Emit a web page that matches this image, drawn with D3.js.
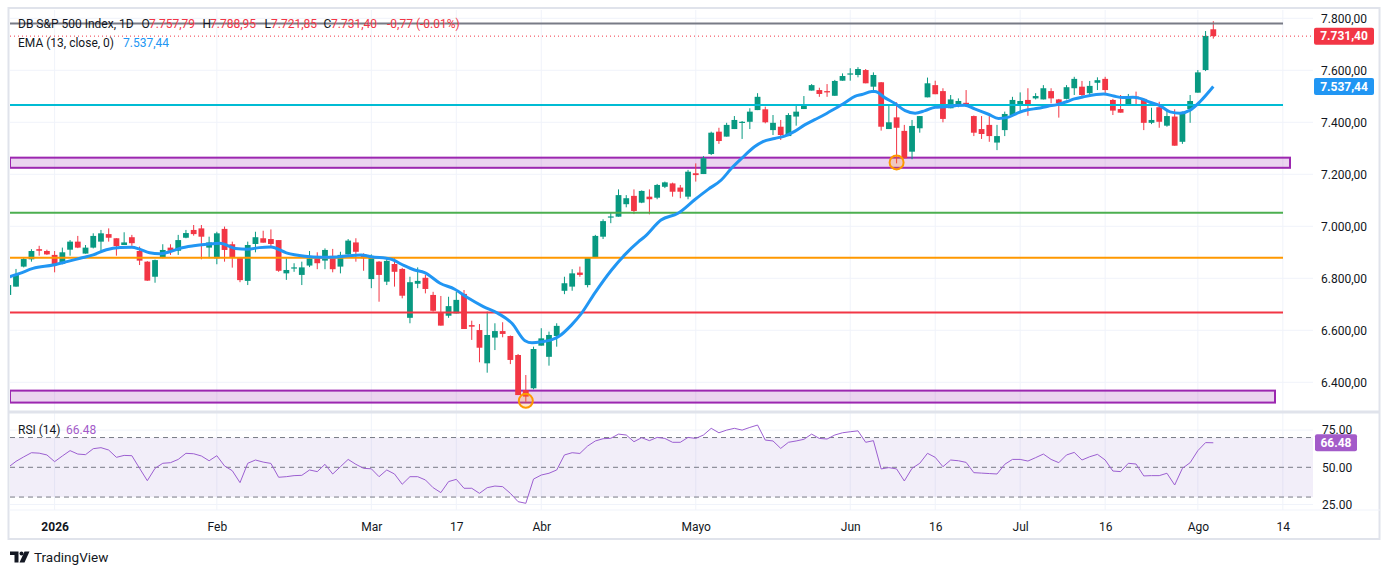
<!DOCTYPE html>
<html lang="es">
  <head>
    <meta charset="UTF-8" />
    <title>DB S&amp;P 500 Index, 1D</title>
    <style>
      body {
        margin: 0;
        background: #fff;
      }

      text {
        font-family: Roboto, "Liberation Sans", sans-serif;
        fill: #131722;
      }

      .grid {
        stroke: #f0f3fa;
        stroke-width: 1px;
      }

      .ema-line {
        fill: none;
        stroke: #2196f3;
        stroke-width: 3px;
        stroke-linejoin: round;
      }

      .rsi-line {
        fill: none;
        stroke: #9c5fd1;
        stroke-width: 1px;
      }

      .rsi-band {
        stroke: #787b86;
        stroke-dasharray: 5,4;
        stroke-width: 1px;
      }
    </style>
  </head>

  <body>

    <script src="https://d3js.org/d3.v7.min.js"></script>
    <script>

      // daily candles, one entry per bar (bar 0 is cut by the left edge)
      var opens = [6736,6768,6845,6873,6912,6905,6890,6856,6910,6941, 6895,6918,6941,6970,6954,6928,6958,6905,6864,6806,
                   6881,6918,6906,6956,6986,6992,6918,6877,6990,6931, 6881,6790,6932,6954,6951,6947,6819,6840,6813,6849,
                   6883,6868,6886,6845,6892,6938,6892,6797,6864,6787, 6855,6836,6648,6779,6802,6736,6668,6656,6665,6740,
                   6620,6601,6473,6572,6597,6578,6505,6370,6377,6541, 6498,6578,6752,6768,6822,6774,6881,6960,7035,7037,
                   7085,7117,7091,7114,7110,7152,7165,7149,7114,7204, 7201,7278,7364,7345,7374,7398,7402,7447,7450,7370,
                   7383,7347,7422,7451,7522,7524,7520,7502,7560,7584, 7582,7601,7537,7554,7374,7419,7367,7287,7377,7496,
                   7543,7520,7454,7467,7475,7424,7374,7390,7322,7370, 7428,7464,7486,7492,7488,7520,7488,7490,7531,7537,
                   7512,7552,7567,7486,7451,7464,7499,7490,7398,7458, 7387,7422,7325,7451,7514,7601,7757.79];

      var highs = [6790,6836,6879,6912,6925,6910,6905,6918,6947,6963, 6928,6973,6986,6992,6954,6977,6967,6922,6866,6872,
                   6931,6931,6967,6986,7005,7005,6960,6979,6999,6941, 6882,6941,6979,6983,6988,6947,6877,6858,6864,6905,
                   6900,6915,6913,6902,6951,6954,6896,6892,6866,6881, 6881,6840,6806,6842,6813,6748,6732,6729,6748,6755,
                   6637,6624,6672,6627,6631,6580,6509,6428,6537,6608, 6595,6627,6806,6835,6845,6881,6967,7027,7054,7142,
                   7120,7142,7138,7142,7163,7172,7168,7159,7217,7242, 7270,7364,7379,7398,7424,7405,7454,7512,7460,7428,
                   7409,7435,7463,7501,7547,7533,7547,7563,7588,7608, 7612,7605,7592,7555,7464,7477,7390,7409,7424,7572,
                   7560,7531,7505,7492,7524,7426,7424,7424,7390,7441, 7498,7515,7531,7512,7543,7531,7490,7543,7575,7559,
                   7559,7573,7575,7490,7505,7509,7518,7492,7456,7479, 7447,7450,7441,7505,7601,7751,7788.95];

      var lows = [6730,6768,6842,6864,6887,6890,6823,6854,6887,6916, 6895,6915,6906,6941,6887,6928,6925,6851,6790,6783,
                  6877,6890,6890,6954,6964,6873,6877,6854,6864,6841, 6785,6774,6900,6937,6918,6825,6794,6825,6774,6843,
                  6835,6835,6823,6819,6886,6864,6829,6762,6710,6774, 6768,6723,6627,6762,6742,6672,6618,6648,6665,6605,
                  6563,6477,6437,6524,6573,6470,6351,6325,6373,6541, 6464,6537,6739,6752,6806,6765,6881,6951,7012,7037,
                  7073,7047,7089,7046,7104,7147,7114,7108,7104,7172, 7201,7274,7317,7345,7374,7336,7374,7447,7396,7351,
                  7332,7347,7387,7451,7522,7498,7498,7502,7560,7560, 7573,7550,7524,7368,7374,7242,7262,7258,7360,7496,
                  7508,7400,7454,7458,7465,7347,7336,7325,7293,7347, 7428,7441,7425,7488,7488,7473,7418,7488,7505,7498,
                  7498,7524,7505,7428,7437,7464,7464,7370,7393,7379, 7383,7310,7317,7398,7514,7597,7721.85];

      var closes = [6774,6813,6874,6905,6906,6892,6851,6900,6941,6918, 6918,6963,6973,6956,6924,6938,6935,6868,6791,6870,
                    6909,6906,6947,6974,6970,6960,6938,6973,6909,6879, 6793,6928,6958,6937,6932,6829,6832,6842,6842,6877,
                    6858,6909,6835,6890,6945,6902,6877,6881,6813,6867, 6825,6733,6785,6790,6759,6675,6618,6693,6717,6605,
                    6614,6533,6582,6597,6586,6486,6351,6345,6528,6569, 6582,6617,6781,6819,6813,6881,6963,7020,7038,7120,
                    7108,7059,7136,7104,7159,7169,7133,7133,7210,7197, 7262,7360,7328,7390,7409,7402,7441,7498,7400,7398,
                    7351,7428,7441,7467,7543,7509,7515,7559,7578,7588, 7605,7550,7582,7383,7400,7379,7262,7386,7424,7550,
                    7508,7413,7488,7482,7467,7360,7355,7347,7347,7432, 7486,7482,7464,7501,7531,7492,7473,7535,7567,7505,
                    7540,7562,7524,7445,7437,7501,7495,7398,7409,7402, 7424,7310,7438,7482,7592,7732.17,7731.40];

      // RSI (14), one value per bar
      var rsiValues = [50.0,54.0,57.0,59.8,59.5,58.3,53.8,57.6,61.2,58.9, 58.5,62.5,63.2,61.6,56.7,58.0,57.8,49.3,41.0,49.3,
                       52.7,53.1,55.3,59.4,59.1,57.6,54.4,57.8,50.9,47.7, 39.7,52.7,54.9,53.5,52.6,43.3,43.7,44.4,44.6,48.2,
                       47.1,52.0,45.5,50.4,55.3,52.0,49.3,49.0,43.7,48.2, 45.5,38.6,43.7,43.7,41.5,36.3,33.0,40.4,41.9,35.9,
                       35.9,32.5,36.3,37.4,37.0,32.5,26.9,25.8,42.1,44.8, 46.0,48.2,58.3,59.8,59.3,64.3,67.7,69.2,69.5,72.3,
                       71.7,67.2,69.9,67.9,70.1,69.4,66.8,66.8,70.1,69.4, 71.7,76.2,73.2,75.0,76.2,75.0,76.8,78.4,68.3,67.7,
                       62.7,66.8,67.7,68.8,72.3,69.4,69.0,71.7,73.2,73.9, 74.5,66.8,67.9,48.9,49.8,48.9,40.8,49.3,52.7,59.4,
                       56.7,50.4,54.9,54.4,53.3,46.4,46.1,45.8,45.5,52.0, 55.3,55.3,54.2,56.5,58.9,55.3,53.1,58.3,60.0,54.9,
                       57.1,58.7,54.9,47.5,47.1,52.7,52.2,44.2,44.4,44.4, 46.0,38.1,49.3,53.1,61.2,66.6,66.48];

      // EMA (13, close) read at these bar positions
      var emaBars = [0.2,1.5,3.2,5.8,7.6,9.3,11,12.7,14.5,16, 17,18.3,19.6,20.9,22.2,24,25.7,27.4,29.4,31,
                     32.5,34,36,38.4,40.5,42.5,44,45.7,47,49.6, 50.9,52.6,53.9,55.9,57.8,59.6,61.5,63.4,65.2,66.9,
                     67.8,69.1,70.3,71.2,72.9,74.2,75.9,78.1,79.8,81.6, 82.4,84.5,86.7,88.9,90.6,92.3,93.6,94.9,96.6,97.7,
                     99.2,100.5,101.8,103.1,104.4,105.7,107,108.3,109.6,110.5, 111.8,112.2,113.5,114.8,116.1,117.4,118.7,120,121.3,122.6,
                     123.8,125.1,126.9,128.2,129.5,130.7,132,133.3,134.6,135.8, 137.1,138,139.2,141.8,143.1,144.3,145.6,146.5,147.8,149.1,
                     150.4,151.7,153,154.3,156];
      var emaValues = [6806,6819,6838,6851,6864,6877,6890,6910,6918,6919, 6912,6898,6894,6902,6915,6925,6931,6935,6915,6912,
                       6918,6920,6898,6885,6881,6882,6887,6890,6883,6873, 6854,6832,6822,6781,6758,6723,6691,6665,6627,6560,
                       6552,6556,6563,6575,6620,6665,6742,6832,6890,6941, 6960,7024,7050,7103,7142,7178,7222,7260,7306,7326,
                       7338,7347,7365,7390,7410,7430,7452,7475,7500,7507, 7518,7518,7494,7472,7445,7435,7445,7458,7460,7464,
                       7466,7452,7431,7415,7420,7436,7448,7454,7462,7468, 7480,7490,7498,7509,7501,7495,7496,7492,7477,7464,
                       7440,7435,7447,7480,7537.44];

      var tickBars = [6, 27, 47, 58, 69, 89, 109, 120, 131, 142, 154, 165];
      var tickLabels = ["2026", "Feb", "Mar", "17", "Abr", "Mayo", "Jun", "16", "Jul", "16", "Ago", "14"];
      var priceTicks = [7800, 7600, 7400, 7200, 7000, 6800, 6600, 6400];
      var rsiTicks = [75, 50, 25];

      // drawn levels and zones
      var levelPrices = [7780, 7467, 7052, 6879, 6668];
      var zoneTops = [7264, 6368];
      var zoneBottoms = [7225, 6322];
      var markedBars = [67, 115];

      var levelColors = ["#787b86", "#00bcd4", "#4caf50", "#ff9800", "#f23645"];
      var zoneEnds = [1290, 1275];

      var w = 1388, h = 575;
      var paneL = 10, paneR = 1313;
      var priceTop = 10, priceBot = 410, rsiTop = 414, rsiBot = 510;
      var lineEnd = 1283;
      var up = "#089981", down = "#f23645";

      var es = d3.formatLocale({ decimal: ",", thousands: ".", grouping: [3], currency: ["", ""], minus: "-" });
      var fmtPrice = es.format(",.2f");
      var fmtRsi = d3.format(".2f");

      var bars = closes.map(function(c, i) {
        return { i: i, o: opens[i], h: highs[i], l: lows[i], c: c };
      });
      var last = bars[bars.length - 1];
      var prev = bars[bars.length - 2];

      var xScale = d3.scaleLinear().domain([1, 156]).range([16, 1213.3]);
      var yScale = d3.scaleLinear().domain([6400, 7800]).range([382.3, 18.3]);
      var rScale = d3.scaleLinear().domain([25, 75]).range([504.5, 430.1]);

      var svg = d3.select("body").append("svg")
        .attr("width", w)
        .attr("height", h);

      svg.append("rect")
        .attr("x", 8.5).attr("y", 8)
        .attr("width", 1371).attr("height", 531)
        .attr("fill", "#fff")
        .attr("stroke", "#e0e3eb")
        .attr("stroke-width", 2);

      var defs = svg.append("defs");
      defs.append("clipPath").attr("id", "clip-price")
        .append("rect").attr("x", paneL).attr("y", priceTop)
        .attr("width", paneR - paneL).attr("height", priceBot - priceTop);
      defs.append("clipPath").attr("id", "clip-rsi")
        .append("rect").attr("x", paneL).attr("y", rsiTop)
        .attr("width", paneR - paneL).attr("height", rsiBot - rsiTop);

      // grid
      svg.append("g").selectAll("line")
        .data(tickBars)
        .join("line")
        .attr("class", "grid")
        .attr("x1", function(d) { return xScale(d); })
        .attr("x2", function(d) { return xScale(d); })
        .attr("y1", priceTop)
        .attr("y2", rsiBot);

      svg.append("g").selectAll("line")
        .data(priceTicks)
        .join("line")
        .attr("class", "grid")
        .attr("x1", paneL).attr("x2", paneR)
        .attr("y1", function(d) { return yScale(d); })
        .attr("y2", function(d) { return yScale(d); });

      svg.append("g").selectAll("line")
        .data([75, 25])
        .join("line")
        .attr("class", "grid")
        .attr("x1", paneL).attr("x2", paneR)
        .attr("y1", function(d) { return rScale(d); })
        .attr("y2", function(d) { return rScale(d); });

      svg.append("line")
        .attr("x1", 9).attr("x2", 1380)
        .attr("y1", 412).attr("y2", 412)
        .attr("stroke", "#e0e3eb")
        .attr("stroke-width", 3);

      svg.append("line")
        .attr("x1", 9).attr("x2", 1380)
        .attr("y1", rsiBot).attr("y2", rsiBot)
        .attr("stroke", "#f0f3fa")
        .attr("stroke-width", 1);

      var price = svg.append("g").attr("clip-path", "url(#clip-price)");

      // zones
      price.append("g").selectAll("rect")
        .data(zoneTops)
        .join("rect")
        .attr("x", paneL)
        .attr("y", function(d) { return yScale(d); })
        .attr("width", function(d, i) { return zoneEnds[i] - paneL; })
        .attr("height", function(d, i) { return yScale(zoneBottoms[i]) - yScale(d); })
        .attr("fill", "rgba(156,39,176,0.2)")
        .attr("stroke", "#9c27b0")
        .attr("stroke-width", 2);

      // candles
      var candle = price.append("g").selectAll("g")
        .data(bars)
        .join("g");

      candle.append("line")
        .attr("x1", function(d) { return xScale(d.i); })
        .attr("x2", function(d) { return xScale(d.i); })
        .attr("y1", function(d) { return yScale(d.h); })
        .attr("y2", function(d) { return yScale(d.l); })
        .attr("stroke", function(d) { return d.c >= d.o ? up : down; })
        .attr("stroke-width", 1);

      candle.append("rect")
        .attr("x", function(d) { return xScale(d.i) - 2.9; })
        .attr("width", 5.8)
        .attr("y", function(d) { return yScale(Math.max(d.o, d.c)); })
        .attr("height", function(d) { return Math.max(1.2, Math.abs(yScale(d.o) - yScale(d.c))); })
        .attr("fill", function(d) { return d.c >= d.o ? up : down; });

      // horizontal levels
      price.append("g").selectAll("line")
        .data(levelPrices)
        .join("line")
        .attr("x1", paneL).attr("x2", lineEnd)
        .attr("y1", function(d) { return yScale(d); })
        .attr("y2", function(d) { return yScale(d); })
        .attr("stroke", function(d, i) { return levelColors[i]; })
        .attr("stroke-width", 2);

      price.append("line")
        .attr("x1", paneL).attr("x2", paneR)
        .attr("y1", yScale(last.c)).attr("y2", yScale(last.c))
        .attr("stroke", down)
        .attr("stroke-width", 1)
        .attr("stroke-dasharray", "1,3");

      var emaPts = emaBars.map(function(b, i) { return { b: b, v: emaValues[i] }; });
      var emaLine = d3.line()
        .x(function(d) { return xScale(d.b); })
        .y(function(d) { return yScale(d.v); })
        .curve(d3.curveMonotoneX);

      price.append("path")
        .datum(emaPts)
        .attr("class", "ema-line")
        .attr("d", emaLine);

      price.append("g").selectAll("circle")
        .data(markedBars)
        .join("circle")
        .attr("cx", function(d) { return xScale(d); })
        .attr("cy", function(d) { return yScale(lows[d]) - 1; })
        .attr("r", 7)
        .attr("fill", "rgba(255,152,0,0.2)")
        .attr("stroke", "#ff9800")
        .attr("stroke-width", 2);

      // RSI pane
      var rsi = svg.append("g").attr("clip-path", "url(#clip-rsi)");

      rsi.append("rect")
        .attr("x", paneL).attr("width", paneR - paneL)
        .attr("y", rScale(70))
        .attr("height", rScale(30) - rScale(70))
        .attr("fill", "rgba(126,87,194,0.1)");

      rsi.append("g").selectAll("line")
        .data([70, 50, 30])
        .join("line")
        .attr("class", "rsi-band")
        .attr("x1", paneL).attr("x2", paneR)
        .attr("y1", function(d) { return rScale(d); })
        .attr("y2", function(d) { return rScale(d); });

      var rsiLine = d3.line()
        .x(function(d, i) { return xScale(i); })
        .y(function(d) { return rScale(d); });

      rsi.append("path")
        .datum(rsiValues)
        .attr("class", "rsi-line")
        .attr("d", rsiLine);

      // axes
      var yAxis = d3.axisRight(yScale)
        .tickValues(priceTicks)
        .tickFormat(fmtPrice)
        .tickSize(0)
        .tickPadding(0);

      var yAxisG = svg.append("g")
        .attr("transform", "translate(1321,0)")
        .call(yAxis);

      var rAxis = d3.axisRight(rScale)
        .tickValues(rsiTicks)
        .tickFormat(fmtRsi)
        .tickSize(0)
        .tickPadding(0);

      var rAxisG = svg.append("g")
        .attr("transform", "translate(1322,0)")
        .call(rAxis);

      var xAxis = d3.axisBottom(xScale)
        .tickValues(tickBars)
        .tickFormat(function(d, i) { return tickLabels[i]; })
        .tickSize(0)
        .tickPadding(12);

      var xAxisG = svg.append("g")
        .attr("transform", "translate(0," + rsiBot + ")")
        .call(xAxis);

      [yAxisG, rAxisG, xAxisG].forEach(function(g) {
        g.select(".domain").remove();
        g.attr("font-family", null).attr("font-size", null);
        g.selectAll("text").style("font-size", "12px").attr("fill", "#131722");
      });
      xAxisG.selectAll("text")
        .attr("dy", "0.71em")
        .style("font-weight", function(d, i) { return i === 0 ? "bold" : null; });

      // last value labels
      function valueTag(yPos, label, color, x0, width) {
        svg.append("rect")
          .attr("x", x0).attr("y", yPos - 8.5)
          .attr("width", width).attr("height", 17)
          .attr("rx", 2)
          .attr("fill", color);
        svg.append("text")
          .attr("x", x0 + width / 2).attr("y", yPos + 4.3)
          .attr("text-anchor", "middle")
          .style("font-size", "12px")
          .style("font-weight", "bold")
          .style("fill", "#fff")
          .text(label);
      }

      valueTag(yScale(last.c), fmtPrice(last.c), down, 1314, 60);
      valueTag(yScale(emaValues[emaValues.length - 1]), fmtPrice(emaValues[emaValues.length - 1]), "#2196f3", 1314, 60);
      valueTag(rScale(rsiValues[rsiValues.length - 1]), fmtRsi(rsiValues[rsiValues.length - 1]), "#a35bc9", 1315, 42);

      // legends
      var change = last.c - prev.c;
      var pct = change / prev.c * 100;

      var legend = svg.append("text")
        .attr("y", 28)
        .style("font-size", "12px");

      legend.append("tspan").attr("x", 18).text("DB S&P 500 Index, 1D");
      legend.append("tspan").attr("x", 141.5).text("O");
      legend.append("tspan").attr("x", 149).style("fill", down).text(fmtPrice(last.o));
      legend.append("tspan").attr("x", 202.5).text("H");
      legend.append("tspan").attr("x", 210).style("fill", down).text(fmtPrice(last.h));
      legend.append("tspan").attr("x", 264.5).text("L");
      legend.append("tspan").attr("x", 271).style("fill", down).text(fmtPrice(last.l));
      legend.append("tspan").attr("x", 323.5).text("C");
      legend.append("tspan").attr("x", 331).style("fill", down).text(fmtPrice(last.c));
      legend.append("tspan").attr("x", 387).style("fill", down)
        .text(es.format(".2f")(change) + " (" + d3.format(".2f")(pct).replace("\u2212", "-") + "%)");

      var emaLegend = svg.append("text")
        .attr("y", 46.5)
        .style("font-size", "12px");
      emaLegend.append("tspan").attr("x", 18).text("EMA (13, close, 0)");
      emaLegend.append("tspan").attr("x", 123).style("fill", "#2196f3")
        .text(fmtPrice(emaValues[emaValues.length - 1]));

      var rsiLegend = svg.append("text")
        .attr("y", 434)
        .style("font-size", "12px");
      rsiLegend.append("tspan").attr("x", 18).text("RSI (14)");
      rsiLegend.append("tspan").attr("x", 66).style("fill", "#a35bc9")
        .text(fmtRsi(rsiValues[rsiValues.length - 1]));

      // TradingView mark
      var logo = svg.append("g").attr("fill", "#131722");
      logo.append("path").attr("d", "M10,551.5 h8.5 v11 h-4 v-7.5 h-4.5 z");
      logo.append("circle").attr("cx", 21.5).attr("cy", 553.5).attr("r", 2);
      logo.append("path").attr("d", "M24.5,551.5 h5 l-5,11 h-5 z");
      svg.append("text")
        .attr("x", 34).attr("y", 562)
        .style("font-size", "13.5px")
        .text("TradingView");

    </script>
  </body>
</html>
